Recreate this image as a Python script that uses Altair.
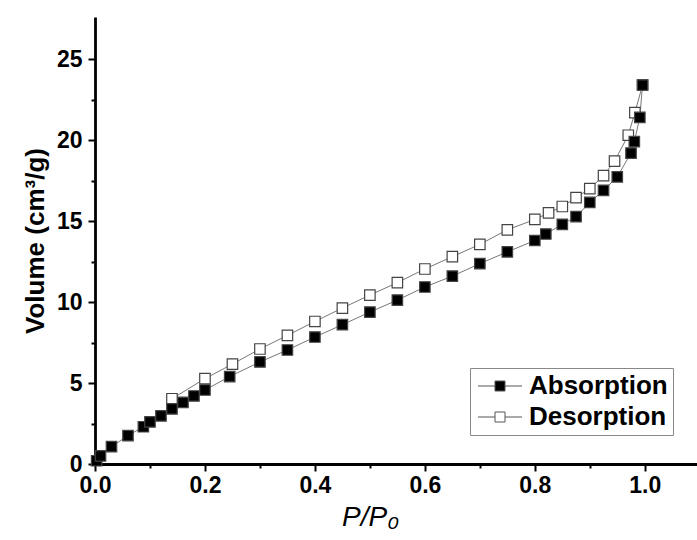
import altair as alt
import pandas as pd

series_names = ["Absorption", "Desorption"]

ads_x = [0.003, 0.01, 0.03, 0.06, 0.088, 0.10, 0.12, 0.14, 0.16, 0.18, 0.20, 0.245,
         0.30, 0.35, 0.40, 0.45, 0.50, 0.55, 0.60, 0.65, 0.70, 0.75, 0.80, 0.82,
         0.85, 0.875, 0.90, 0.925, 0.95, 0.975, 0.981, 0.991, 0.996]
ads_y = [0.2, 0.5, 1.07, 1.75, 2.3, 2.6, 2.97, 3.4, 3.8, 4.2, 4.57, 5.4,
         6.3, 7.04, 7.84, 8.6, 9.38, 10.12, 10.93, 11.6, 12.37, 13.1, 13.8, 14.2,
         14.8, 15.27, 16.15, 16.9, 17.73, 19.2, 19.9, 21.4, 23.4]

des_x = [0.996, 0.982, 0.97, 0.945, 0.925, 0.90, 0.875, 0.85, 0.825, 0.80, 0.75,
         0.70, 0.65, 0.60, 0.55, 0.50, 0.45, 0.40, 0.35, 0.30, 0.25, 0.20, 0.14]
des_y = [23.4, 21.7, 20.3, 18.7, 17.8, 17.0, 16.45, 15.9, 15.5, 15.1, 14.46,
         13.56, 12.8, 12.04, 11.2, 10.43, 9.63, 8.8, 7.94, 7.1, 6.17, 5.27, 4.03]

x_ticks = [round(0.1 * i, 1) for i in range(0, 11)]
y_ticks = [2.5 * i for i in range(0, 11)]

des = pd.DataFrame({"p": des_x, "v": des_y, "series": series_names[1],
                    "idx": list(range(len(des_x)))})
ads = pd.DataFrame({"p": ads_x, "v": ads_y, "series": series_names[0],
                    "idx": list(range(len(ads_x)))})
df = pd.concat([des, ads], ignore_index=True)

FONT = "Liberation Sans"

x_enc = alt.X("p:Q",
              scale=alt.Scale(domain=[0, 1.095], nice=False, zero=False),
              axis=alt.Axis(values=x_ticks, title="P/P₀",
                            labelExpr="round(datum.value*10) % 2 == 0 ? format(datum.value, '.1f') : ''",
                            tickSize={"condition": {"test": "round(datum.value*10) % 2 == 0", "value": 7}, "value": 4},
                            titleFontStyle="italic", titleFontWeight="normal", titleFontSize=28,
                            titleX=275, titleAlign="center", titlePadding=6, labelPadding=3))
y_enc = alt.Y("v:Q",
              scale=alt.Scale(domain=[0, 27.6], nice=False, zero=False),
              axis=alt.Axis(values=y_ticks, title="Volume (cm³/g)",
                            labelExpr="datum.value % 5 == 0 ? datum.label : ''",
                            tickSize={"condition": {"test": "datum.value % 5 == 0", "value": 7}, "value": 4},
                            titlePadding=8, labelPadding=6, titleFontSize=26))

base = alt.Chart(df)

lines = base.mark_line(color="#777777", strokeWidth=1).encode(
    x=x_enc, y=y_enc, detail="series:N", order="idx:Q")

# legend glyph: line - square - line, drawn off-centre so the label sits after it
legend_path = "M-1,0H0.7M1.7,0H3.4M0.7,-0.5H1.7V0.5H0.7Z"

points = base.mark_point(shape="square", filled=True, size=110, strokeWidth=1.2,
                         opacity=1).encode(
    x=x_enc, y=y_enc,
    fill=alt.Fill("series:N",
                  scale=alt.Scale(domain=series_names, range=["#000000", "#ffffff"]),
                  legend=alt.Legend(title=None, orient="none", legendX=375, legendY=351,
                                    symbolType=legend_path, symbolSize=400,
                                    symbolStrokeColor="#555555", symbolStrokeWidth=1,
                                    labelFontSize=26, labelFontWeight="bold", labelFont=FONT,
                                    labelColor="black", labelOffset=28, rowPadding=5,
                                    padding=5, strokeColor="#888888", fillColor="white",
                                    cornerRadius=0)),
    stroke=alt.value("#444444"))

chart = alt.layer(lines, points).properties(
    width=602, height=447,
    autosize=alt.AutoSizeParams(type="none"),
    padding={"left": 95, "top": 17, "right": 0, "bottom": 76},
).configure_view(stroke=None).configure_axis(
    grid=False, domainColor="black", domainWidth=2.8, tickColor="black", tickWidth=2,
    labelFont=FONT, labelFontSize=23, labelFontWeight="bold", labelColor="black",
    titleFont=FONT, titleFontWeight="bold",
    titleColor="black", labelFlush=False, labelOverlap=False)

chart.save("out.html", embed_options={"renderer": "svg", "actions": False})
